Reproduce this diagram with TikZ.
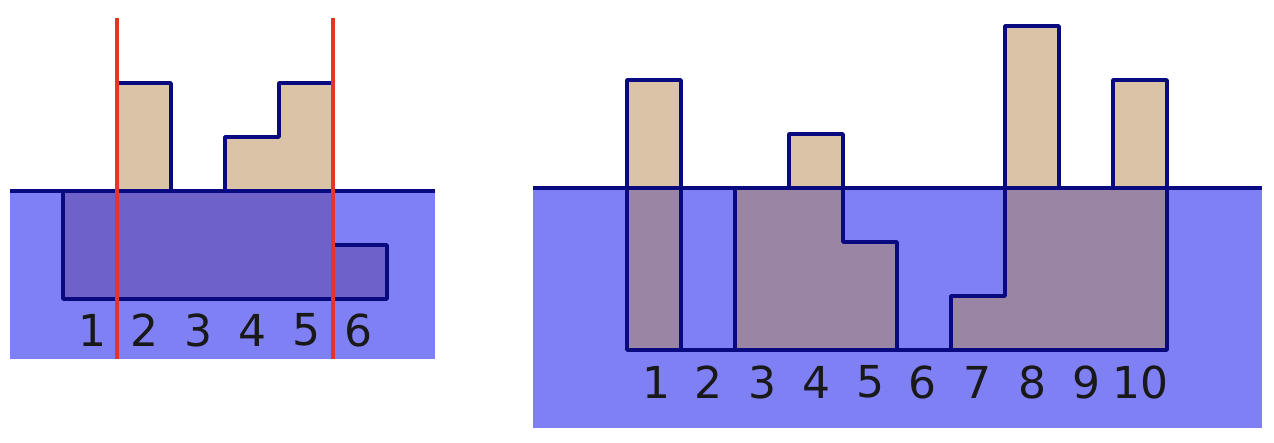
\documentclass[tikz,border=0pt]{standalone}
\usepackage{fontspec}
\setmainfont{DejaVu Sans}
\definecolor{water}{HTML}{8080F5}
\definecolor{tan}{HTML}{DBC3A8}
\definecolor{subL}{HTML}{6E62C8}
\definecolor{subR}{HTML}{9A86A4}
\definecolor{navy}{HTML}{0A0A80}
\definecolor{redline}{HTML}{E8322A}
\tikzset{
  outline/.style={draw=navy,line width=3.6pt,line join=round,line cap=round},
  wline/.style={draw=navy,line width=3.2pt},
  rline/.style={draw=redline,line width=3.2pt},
  num/.style={font=\fontsize{44}{44}\selectfont,text=black!90,inner sep=0pt,anchor=center}
}
\begin{document}
\begin{tikzpicture}[x=1pt,y=-1pt]
\useasboundingbox (0,0) rectangle (1274,442);
% ---------- left panel ----------
\fill[water] (10,191) rectangle (435,359);
\def\leftpoly{(63,299) -- (63,191) -- (117,191) -- (117,83) -- (171,83) -- (171,191) -- (225,191) -- (225,137) -- (279,137) -- (279,83) -- (333,83) -- (333,245) -- (387,245) -- (387,299) -- cycle}
\begin{scope}
  \clip (0,0) rectangle (450,191);
  \fill[tan] \leftpoly;
\end{scope}
\begin{scope}
  \clip (0,191) rectangle (450,442);
  \fill[subL] \leftpoly;
\end{scope}
\draw[outline] \leftpoly;
\coordinate (wl1) at (10,191);
\coordinate (wl2) at (435,191);
\draw[wline] (wl1) -- (wl2);
\foreach \i/\x in {1/92,2/144,3/198,4/252,5/306,6/358}{
  \node[num] (L\i) at (\x,330) {\i};
}
\coordinate (ra1) at (117,18);
\coordinate (ra2) at (117,359);
\coordinate (rb1) at (333,18);
\coordinate (rb2) at (333,359);
\draw[rline] (ra1) -- (ra2);
\draw[rline] (rb1) -- (rb2);
% ---------- right panel ----------
\fill[water] (533,188) rectangle (1262,428);
\def\rightpoly{(627,350) -- (627,80) -- (681,80) -- (681,350) -- (735,350) -- (735,188) -- (789,188) -- (789,134) -- (843,134) -- (843,242) -- (897,242) -- (897,350) -- (951,350) -- (951,296) -- (1005,296) -- (1005,26) -- (1059,26) -- (1059,188) -- (1113,188) -- (1113,80) -- (1167,80) -- (1167,350) -- cycle}
\begin{scope}
  \clip (520,0) rectangle (1274,188);
  \fill[tan] \rightpoly;
\end{scope}
\begin{scope}
  \clip (520,188) rectangle (1274,442);
  \fill[subR] \rightpoly;
\end{scope}
\draw[outline] \rightpoly;
\draw[outline] (681,350) -- (681,188);
\coordinate (wr1) at (533,188);
\coordinate (wr2) at (1262,188);
\draw[wline] (wr1) -- (wr2);
\foreach \i/\x in {1/656,2/708,3/762,4/816,5/870,6/922,7/977,8/1032,9/1086,10/1140}{
  \node[num] (R\i) at (\x,382) {\i};
}
\end{tikzpicture}
\end{document}
